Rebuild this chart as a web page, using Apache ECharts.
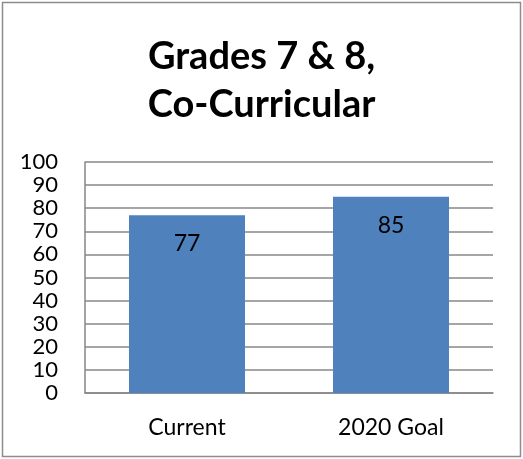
<!DOCTYPE html>
<html>
<head>
<meta charset="utf-8">
<script src="https://cdn.jsdelivr.net/npm/echarts@6/dist/echarts.min.js"></script>
<style>
  html, body { margin: 0; padding: 0; background: #fff; }
  #chart { width: 523px; height: 459px; }
</style>
</head>
<body>
<div id="chart"></div>
<script>
const titleText = "Grades 7 & 8,\nCo-Curricular";
const categories = ["Current", "2020 Goal"];
const values = [77, 85];
const yMin = 0, yMax = 100, yInterval = 10;

const chart = echarts.init(document.getElementById('chart'), null, { renderer: 'canvas' });
chart.setOption({
  animation: false,
  backgroundColor: '#ffffff',
  textStyle: { fontFamily: 'Lato, "Open Sans", sans-serif' },
  title: {
    text: titleText,
    left: 'center',
    top: 28,
    textStyle: { fontFamily: 'Lato', fontWeight: 'bold', fontSize: 38, lineHeight: 48, color: '#000' }
  },
  graphic: [{
    type: 'rect',
    shape: { x: 2.5, y: 2.5, width: 518, height: 454 },
    style: { fill: 'none', stroke: '#8c8c8c', lineWidth: 1.5 },
    silent: true
  }],
  grid: { left: 85, right: 30, top: 162, bottom: 66, containLabel: false },
  xAxis: {
    type: 'category',
    data: categories,
    axisLine: { show: true, lineStyle: { color: '#878787', width: 1.5 } },
    axisTick: { show: false },
    axisLabel: { color: '#000', fontSize: 23, fontFamily: 'Lato', margin: 23 }
  },
  yAxis: {
    type: 'value',
    min: yMin, max: yMax, interval: yInterval,
    axisLine: { show: true, lineStyle: { color: '#878787', width: 1.5 } },
    axisTick: { show: false },
    splitLine: { show: true, lineStyle: { color: '#878787', width: 1.5 } },
    axisLabel: { color: '#000', fontSize: 22, fontFamily: 'Lato', margin: 27 }
  },
  series: [{
    type: 'bar',
    data: values,
    barWidth: 116,
    itemStyle: { color: '#4F81BD' },
    label: {
      show: true,
      position: 'insideTop',
      distance: 17,
      color: '#000',
      fontSize: 23,
      fontFamily: 'Lato'
    }
  }]
});
</script>
</body>
</html>
